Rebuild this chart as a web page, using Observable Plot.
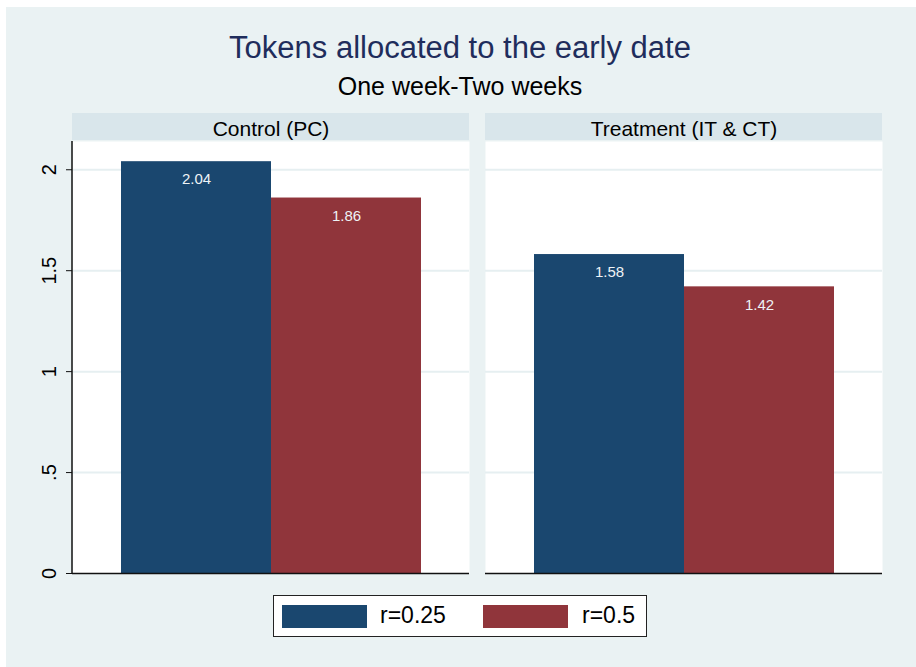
<!DOCTYPE html>
<html>
<head>
<meta charset="utf-8">
<script src="https://cdn.jsdelivr.net/npm/d3@7"></script>
<script src="https://cdn.jsdelivr.net/npm/@observablehq/plot@0.6"></script>
<style>
  body { margin: 0; background: #ffffff; font-family: "Liberation Sans", Arial, sans-serif; }
  #wrap { position: relative; width: 916px; height: 667px; overflow: hidden; background: #ffffff; }
  #bg { position: absolute; left: 6px; top: 7px; right: 0; bottom: 0; background: #eaf2f3; }
  .t { position: absolute; left: 0; width: 920px; text-align: center; line-height: 1; white-space: nowrap; }
  #title { top: 32px; font-size: 31px; color: #1f2d5c; }
  #subtitle { top: 74px; font-size: 25px; color: #000; }
  #chart { position: absolute; left: 0; top: 100px; }
  #legend { position: absolute; left: 273px; top: 595px; width: 372px; height: 40px; border: 1px solid #222; background: #fff; }
  .sw { position: absolute; width: 85px; height: 23px; top: 605px; }
  .lt { position: absolute; font-size: 23px; line-height: 1; top: 604px; color: #000; white-space: nowrap; }
</style>
</head>
<body>
<div id="wrap">
  <div id="bg"></div>
  <div class="t" id="title">Tokens allocated to the early date</div>
  <div class="t" id="subtitle">One week-Two weeks</div>
  <div id="chart"></div>
  <div id="legend"></div>
  <div id="legitems"></div>
</div>
<script>
// ---- data ----
const groups = ["Control (PC)", "Treatment (IT & CT)"];
const rates = ["r=0.25", "r=0.5"];
const controlValues = [2.04, 1.86];
const treatmentValues = [1.58, 1.42];
const barColors = ["#1a476f", "#90353b"];
const yTicks = [0, 0.5, 1, 1.5, 2];
const yTickLabels = ["0", ".5", "1", "1.5", "2"];
const yMax = 2.14;

const data = [];
rates.forEach((r, i) => data.push({group: groups[0], rate: r, value: controlValues[i]}));
rates.forEach((r, i) => data.push({group: groups[1], rate: r, value: treatmentValues[i]}));

const W = 916, H = 500;
const mTop = 41, mBottom = 27, mLeft = 72, mRight = 33;

const chart = Plot.plot({
  width: W,
  height: H,
  marginTop: mTop,
  marginBottom: mBottom,
  marginLeft: mLeft,
  marginRight: mRight,
  style: {background: "transparent", fontFamily: "'Liberation Sans', Arial, sans-serif", overflow: "visible"},
  fx: {domain: groups, paddingInner: 0.0387, paddingOuter: 0, axis: null},
  x: {domain: rates, paddingInner: 0, paddingOuter: 0.323, axis: null},
  y: {domain: [0, yMax], axis: null},
  color: {domain: rates, range: barColors},
  marks: [
    Plot.frame({fill: "white", stroke: null}),
    Plot.gridY(yTicks.filter(t => t > 0), {stroke: "#e6eff1", strokeOpacity: 1, strokeWidth: 2}),
    Plot.barY(data, {fx: "group", x: "rate", y: "value", fill: "rate"}),
    Plot.ruleY([0], {stroke: "#111", strokeWidth: 1.5}),
    Plot.text(data, {fx: "group", x: "rate", y: "value", text: d => d.value.toFixed(2),
      dy: 18, fill: "#eef3f6", fontSize: 15}),
    Plot.axisY({ticks: yTicks, tickFormat: d => yTickLabels[yTicks.indexOf(d)], tickSize: 6,
      tickRotate: -90, fontSize: 20, fill: "#000", stroke: "#111", label: null, tickPadding: 11}),
    Plot.axisFx({anchor: "top", tickSize: 0, tickPadding: 6, fontSize: 21, fill: "#000", label: null})
  ]
});

document.getElementById("chart").appendChild(chart);

// header strips and left axis line, positioned via the plot's own scales
const fx = chart.scale("fx");
const ys = chart.scale("y");
const svg = d3.select(chart);
const headerG = svg.insert("g", ":first-child");
groups.forEach(g => {
  headerG.append("rect")
    .attr("x", fx.apply(g))
    .attr("width", fx.bandwidth)
    .attr("y", mTop - 28)
    .attr("height", 27)
    .attr("fill", "#d9e6eb");
});
svg.append("line")
  .attr("x1", fx.apply(groups[0])).attr("x2", fx.apply(groups[0]))
  .attr("y1", mTop).attr("y2", ys.apply(0))
  .attr("stroke", "#111").attr("stroke-width", 1.5);

// legend
const legendX = [282, 483];
const legendTextX = [380, 582];
const li = document.getElementById("legitems");
rates.forEach((r, i) => {
  const s = document.createElement("div");
  s.className = "sw";
  s.style.left = legendX[i] + "px";
  s.style.background = barColors[i];
  li.appendChild(s);
  const t = document.createElement("div");
  t.className = "lt";
  t.style.left = legendTextX[i] + "px";
  t.textContent = r;
  li.appendChild(t);
});
</script>
</body>
</html>
